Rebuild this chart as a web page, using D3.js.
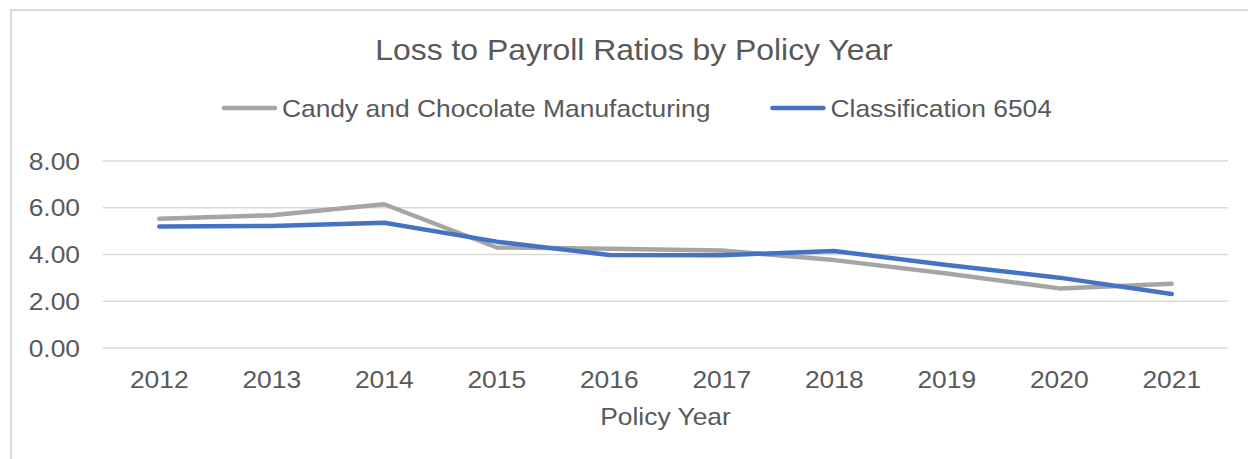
<!DOCTYPE html>
<html>
<head>
<meta charset="utf-8">
<script src="https://cdn.jsdelivr.net/npm/d3@7"></script>
<style>
  html, body { margin: 0; padding: 0; background: #ffffff; }
  svg { display: block; }
  text { font-family: "Liberation Sans", Arial, sans-serif; fill: #595959; }
</style>
</head>
<body>
<svg id="chart" width="1248" height="459"></svg>
<script>
// Policy years on the category axis
const years = ["2012", "2013", "2014", "2015", "2016", "2017", "2018", "2019", "2020", "2021"];

// Loss to payroll ratios per series
const candyChocolate = [5.53, 5.68, 6.15, 4.30, 4.25, 4.17, 3.76, 3.19, 2.55, 2.75];
const class6504      = [5.20, 5.22, 5.36, 4.55, 3.98, 3.97, 4.15, 3.55, 3.01, 2.31];

const seriesNames = ["Candy and Chocolate Manufacturing", "Classification 6504"];
const seriesColors = ["#a5a5a5", "#4472c4"];

// Value-axis ticks
const yTicks = [0, 2, 4, 6, 8];

const titleText = "Loss to Payroll Ratios by Policy Year";
const xAxisTitle = "Policy Year";

const W = 1248, H = 459;
const plot = { left: 103, right: 1228, top: 161, bottom: 348 };
const sx = 1.1; // horizontal stretch applied to text glyphs

const svg = d3.select("#chart");

// Chart-area border (extends past the right and bottom edges)
svg.append("rect")
  .attr("x", 11).attr("y", 10)
  .attr("width", W + 20).attr("height", H + 20)
  .attr("fill", "none")
  .attr("stroke", "#d9d9d9")
  .attr("stroke-width", 2);

const x = d3.scaleBand().domain(years).range([plot.left, plot.right]).padding(0);
const y = d3.scaleLinear().domain([0, 8]).range([plot.bottom, plot.top]);

// Helper: text with horizontal stretch around its anchor point
function stretchedText(g, tx, ty, str, size, anchor) {
  return g.append("text")
    .attr("transform", `translate(${tx},${ty}) scale(${sx},1)`)
    .attr("text-anchor", anchor)
    .style("font-size", size + "px")
    .text(str);
}

// Gridlines
const grid = svg.append("g");
grid.selectAll("line")
  .data(yTicks)
  .join("line")
  .attr("x1", plot.left).attr("x2", plot.right)
  .attr("y1", d => y(d)).attr("y2", d => y(d))
  .attr("stroke", "#d9d9d9")
  .attr("stroke-width", 1.3);

// Y-axis labels
const yAxisG = svg.append("g");
yTicks.forEach(t => {
  stretchedText(yAxisG, 80, y(t) + 8.5, d3.format(".2f")(t), 24, "end");
});

// X-axis labels
const xAxisG = svg.append("g");
years.forEach(yr => {
  stretchedText(xAxisG, x(yr) + x.bandwidth() / 2, 388, yr, 24, "middle");
});

// Axis title
stretchedText(svg, (plot.left + plot.right) / 2, 425, xAxisTitle, 24, "middle");

// Chart title
stretchedText(svg, 634, 60, titleText, 29, "middle");

// Lines
const line = d3.line()
  .x((d, i) => x(years[i]) + x.bandwidth() / 2)
  .y(d => y(d));

[candyChocolate, class6504].forEach((vals, i) => {
  svg.append("path")
    .datum(vals)
    .attr("d", line)
    .attr("fill", "none")
    .attr("stroke", seriesColors[i])
    .attr("stroke-width", 4.5)
    .attr("stroke-linejoin", "round")
    .attr("stroke-linecap", "round");
});

// Legend
const legend = svg.append("g");
const swatchW = 55, swatchGap = 5, itemGap = 60, legendY = 108;
// measure label widths
const widths = seriesNames.map(name => {
  const t = legend.append("text").style("font-size", "24px").text(name);
  const w = t.node().getComputedTextLength() * sx;
  t.remove();
  return w;
});
const totalW = widths.reduce((a, w) => a + swatchW + swatchGap + w, 0) + itemGap * (seriesNames.length - 1);
let cx = 637 - totalW / 2;
seriesNames.forEach((name, i) => {
  legend.append("line")
    .attr("x1", cx + 2).attr("x2", cx + swatchW - 2)
    .attr("y1", legendY).attr("y2", legendY)
    .attr("stroke", seriesColors[i])
    .attr("stroke-width", 4.5)
    .attr("stroke-linecap", "round");
  stretchedText(legend, cx + swatchW + swatchGap, legendY + 9, name, 24, "start");
  cx += swatchW + swatchGap + widths[i] + itemGap;
});
</script>
</body>
</html>
